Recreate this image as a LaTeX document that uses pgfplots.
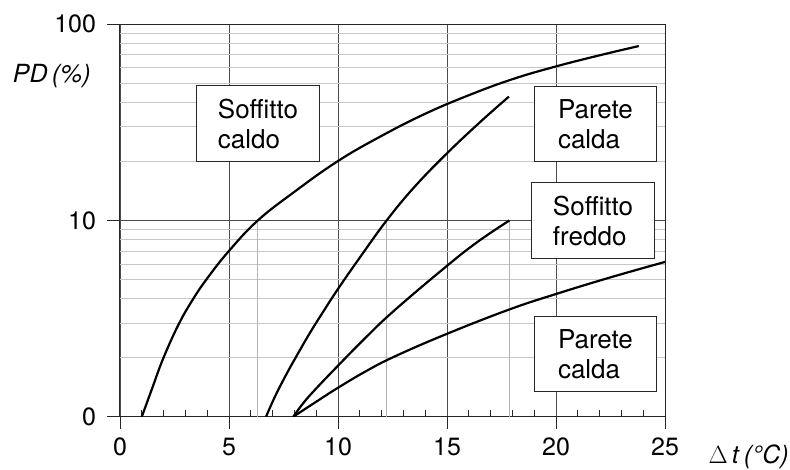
\documentclass[border=0pt]{standalone}
\usepackage{fontspec}
\setmainfont{TeX Gyre Heros}
\usepackage{pgfplots}
\pgfplotsset{compat=1.18}

\begin{document}
\fontsize{25}{30}\selectfont
\begin{tikzpicture}[font=\fontsize{25}{30}\selectfont]
\path[use as bounding box] (-120pt,-52.3pt) rectangle (670pt,416.7pt);
\begin{axis}[
    at={(0,0)}, anchor=south west,
    scale only axis,
    width=545pt, height=392.4pt,
    xmin=0, xmax=25,
    ymode=log, ymin=1, ymax=100,
    xtick={0,5,10,15,20,25},
    ytick={1,10,100},
    yticklabels={0,10,100},
    minor ytick={2,3,4,5,6,7,8,9,20,30,40,50,60,70,80,90},
    extra x ticks={1,2,3,4,6,7,8,9,11,12,13,14,16,17,18,19,21,22,23,24},
    extra x tick style={tick align=inside, major tick length=6.7pt,
        xticklabels={}, grid=none},
    xtick pos=bottom, ytick pos=left,
    tick align=outside,
    major tick length=12.5pt,
    minor tick length=0pt,
    tick style={black!85, line width=0.9pt},
    tick label style={font=\fontsize{25}{30}\selectfont},
    xmajorgrids, ymajorgrids, yminorgrids,
    major grid style={black!70, line width=0.9pt},
    minor grid style={black!22, line width=0.8pt},
    axis line style={black!85, line width=1pt},
    /pgf/number format/assume math mode=true,
    yticklabel style={xshift=-3pt},
]
% thin marks where curves reach 10 %
\addplot[black!30, line width=0.8pt] coordinates {(6.32,1) (6.32,10)};
\addplot[black!30, line width=0.8pt] coordinates {(12.23,1) (12.23,10)};
\addplot[black!30, line width=0.8pt] coordinates {(17.86,1) (17.86,10)};

\pgfplotsset{curve/.style={black, line width=2.2pt, smooth, tension=0.7}}
% soffitto caldo
\addplot[curve] coordinates {
    (1,1) (1.45,1.37) (1.99,1.99) (2.68,2.94) (3.33,3.94) (4,5.07) (5,7.0)
    (6.32,10) (8,14) (10,20.1) (12,27) (14,35) (16,43.5) (18,52.5) (20,61)
    (22,69.5) (23.8,77.5)
};
% parete (upper)
\addplot[curve] coordinates {
    (6.7,1) (7.1,1.26) (7.6,1.62) (8.1,2.04) (8.7,2.66) (9.3,3.40)
    (10,4.48) (11,6.47) (12.23,10) (13.5,14.8) (15,22.0) (16.5,31.6)
    (17.84,42.8)
};
% soffitto freddo
\addplot[curve] coordinates {
    (7.95,1) (8.4,1.17) (8.94,1.37) (9.98,1.81) (11.3,2.55) (12.61,3.5)
    (14.98,5.85) (16.4,7.78) (17.86,10)
};
% parete calda (lower)
\addplot[curve] coordinates {
    (7.95,1) (8.94,1.18) (9.98,1.40) (11.3,1.71) (12.61,2.03) (14.98,2.64)
    (17.86,3.52) (20,4.22) (22.5,5.13) (25,6.15)
};

\tikzset{box/.style={draw=black!85, line width=0.9pt, fill=white,
    minimum width=122.6pt, minimum height=75.7pt, align=left, inner sep=0pt,
    font=\fontsize{26}{30}\selectfont}}
\node[box] at (axis cs:6.33,31.2) {Soffitto\\caldo};
\node[box] at (axis cs:21.81,31.1) {Parete\\calda};
\node[box] at (axis cs:21.70,10.0) {Soffitto\\freddo};
\node[box] at (axis cs:21.81,2.09) {Parete\\calda};
\end{axis}
\node[anchor=base west, inner sep=0pt] at (-107.3pt,334pt) {\textit{PD\,(\%)}};
\node[anchor=base west, inner sep=0pt] at (588.3pt,-46.8pt) {$\Delta$\,\textit{t}\,\textit{(°C)}};
\end{tikzpicture}
\end{document}
